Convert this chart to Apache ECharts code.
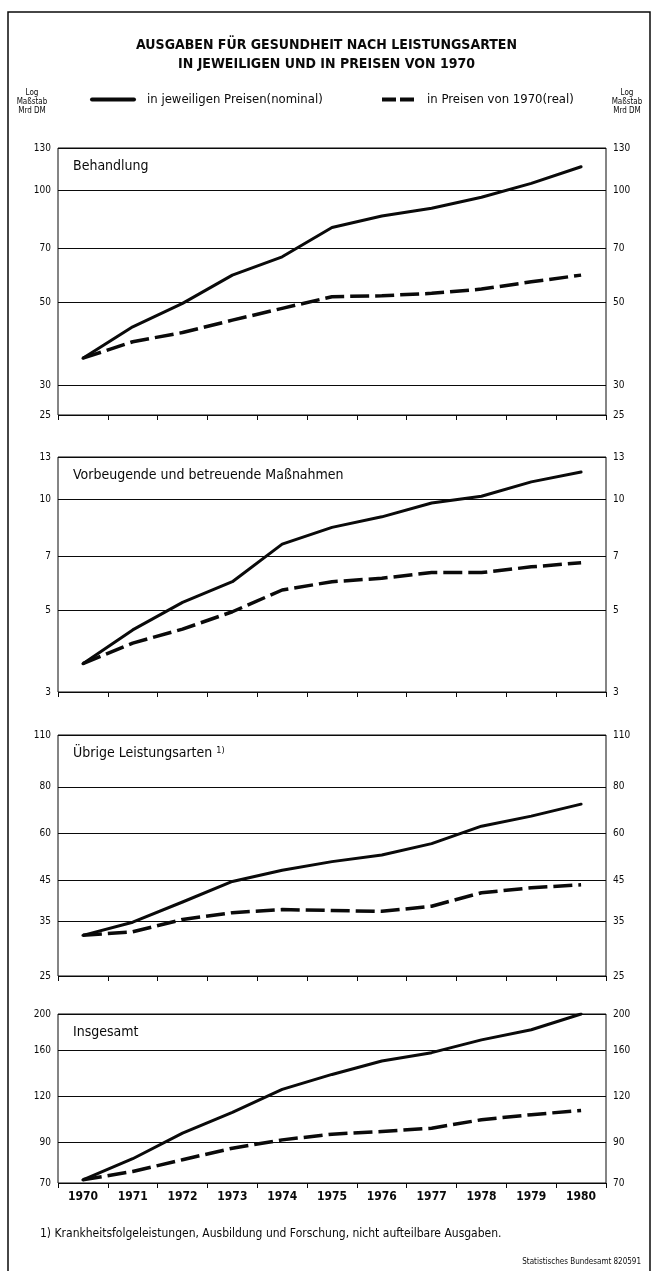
<!DOCTYPE html>
<html>
<head>
<meta charset="utf-8">
<script src="https://cdn.jsdelivr.net/npm/echarts@6/dist/echarts.min.js"></script>
<style>
  html, body { margin: 0; padding: 0; background: #fff; }
  #chart { width: 653px; height: 1271px; }
</style>
</head>
<body>
<div id="chart"></div>
<script>
// Jahre (Kategorien der x-Achse)
const years = ['1970', '1971', '1972', '1973', '1974', '1975', '1976', '1977', '1978', '1979', '1980'];

// Ausgaben in Mrd DM
const behandlungNominal = [35.5, 43.1, 49.8, 59.3, 66.4, 79.6, 85.4, 89.6, 95.9, 104.5, 115.8];
const behandlungReal    = [35.5, 39.3, 41.6, 44.9, 48.3, 51.9, 52.2, 53.0, 54.4, 56.9, 59.3];

const vorbeugendNominal = [3.58, 4.42, 5.25, 5.97, 7.55, 8.38, 8.95, 9.76, 10.18, 11.13, 11.84];
const vorbeugendReal    = [3.58, 4.07, 4.44, 4.95, 5.67, 5.97, 6.10, 6.32, 6.32, 6.55, 6.72];

const uebrigeNominal = [32.1, 34.8, 39.4, 44.7, 47.9, 50.5, 52.6, 56.4, 62.8, 66.8, 71.9];
const uebrigeReal    = [32.1, 32.8, 35.4, 36.9, 37.6, 37.4, 37.2, 38.4, 41.7, 43.0, 43.8];

const insgesamtNominal = [71.4, 81.4, 95.4, 108.6, 125.2, 137.4, 149.4, 157.3, 170.3, 181.4, 200];
const insgesamtReal    = [71.4, 75.2, 80.9, 86.9, 91.5, 94.8, 96.4, 98.4, 103.7, 107.0, 109.9];

// Skalenwerte (logarithmisch) je Teilbild
const behandlungTicks = [25, 30, 50, 70, 100, 130];
const vorbeugendTicks = [3, 5, 7, 10, 13];
const uebrigeTicks    = [25, 35, 45, 60, 80, 110];
const insgesamtTicks  = [70, 90, 120, 160, 200];

const panelTitles = ['Behandlung', 'Vorbeugende und betreuende Maßnahmen', 'Übrige Leistungsarten', 'Insgesamt'];

const NAME_NOMINAL = 'in jeweiligen Preisen(nominal)';
const NAME_REAL = 'in Preisen von 1970(real)';

const FONT = "'Liberation Sans Narrow', 'DejaVu Sans Condensed', 'Roboto', sans-serif";
const INK = '#0a0a0a';

// Teilbilder: Daten + Lage der Zeichenfläche
const panels = [
  { nominal: behandlungNominal, real: behandlungReal, ticks: behandlungTicks, top: 148, height: 267 },
  { nominal: vorbeugendNominal, real: vorbeugendReal, ticks: vorbeugendTicks, top: 457, height: 235 },
  { nominal: uebrigeNominal,    real: uebrigeReal,    ticks: uebrigeTicks,    top: 735, height: 241 },
  { nominal: insgesamtNominal,  real: insgesamtReal,  ticks: insgesamtTicks,  top: 1014, height: 169 }
];

const grids = [], xAxes = [], yAxes = [], series = [];

panels.forEach((p, i) => {
  const tMin = Math.min(...p.ticks), tMax = Math.max(...p.ticks);
  grids.push({
    left: 58, right: 47, top: p.top, height: p.height,
    show: true, borderColor: INK, borderWidth: 1, backgroundColor: 'transparent'
  });
  xAxes.push({
    type: 'category', gridIndex: i, data: years, boundaryGap: true,
    axisLine: { show: false },
    axisTick: { show: true, length: 5, lineStyle: { color: INK, width: 1 } },
    axisLabel: {
      show: i === panels.length - 1, margin: 8,
      color: INK, fontFamily: FONT, fontSize: 12, fontWeight: 'bold'
    },
    splitLine: { show: false }
  });
  yAxes.push({
    type: 'log', logBase: 10, gridIndex: i, min: tMin, max: tMax,
    axisLine: { show: false }, axisTick: { show: false },
    axisLabel: { show: false }, splitLine: { show: false }
  });

  // Gitterlinien mit Beschriftung links (an der Nominal-Reihe)
  const leftMarks = p.ticks.map(v => ({
    yAxis: v,
    label: { show: true, position: 'start', distance: 7, formatter: String(v) }
  }));
  // Beschriftung rechts (an der Real-Reihe, Linie unsichtbar)
  const rightMarks = p.ticks.map(v => ({
    yAxis: v,
    label: { show: true, position: 'end', distance: 7, formatter: String(v) }
  }));

  series.push({
    name: NAME_NOMINAL, type: 'line', xAxisIndex: i, yAxisIndex: i,
    data: p.nominal, showSymbol: false, symbol: 'none', z: 5,
    lineStyle: { color: INK, width: 3, type: 'solid', cap: 'round', join: 'round' },
    itemStyle: { color: INK },
    markLine: {
      silent: true, symbol: ['none', 'none'], animation: false,
      lineStyle: { color: INK, width: 1, type: 'solid' },
      label: { color: INK, fontFamily: FONT, fontSize: 10 },
      data: leftMarks
    }
  });
  series.push({
    name: NAME_REAL, type: 'line', xAxisIndex: i, yAxisIndex: i,
    data: p.real, showSymbol: false, symbol: 'none', z: 5,
    lineStyle: { color: INK, width: 3.5, type: [19, 6], cap: 'butt', join: 'round' },
    itemStyle: { color: INK },
    markLine: {
      silent: true, symbol: ['none', 'none'], animation: false,
      lineStyle: { color: 'rgba(0,0,0,0)', width: 1, type: 'solid' },
      label: { color: INK, fontFamily: FONT, fontSize: 10 },
      data: rightMarks
    }
  });
});

const titles = [
  {
    text: 'AUSGABEN FÜR GESUNDHEIT NACH LEISTUNGSARTEN\nIN JEWEILIGEN UND IN PREISEN VON 1970',
    left: 'center', top: 36, padding: 0,
    textStyle: { color: INK, fontFamily: FONT, fontSize: 14, fontWeight: 'bold', lineHeight: 19 }
  }
];
panels.forEach((p, i) => {
  titles.push({
    text: panelTitles[i] + (i === 2 ? ' {sup|1)}' : ''),
    left: 73, top: p.top + 11, padding: 0,
    textStyle: {
      color: INK, fontFamily: FONT, fontSize: 14, fontWeight: 'normal',
      rich: { sup: { fontFamily: FONT, fontSize: 9, verticalAlign: 'top', color: INK, padding: [0, 0, 6, 0] } }
    }
  });
});

const scaleNote = 'Log\nMaßstab\nMrd DM';

// Legendensymbol: nur die Linie, ohne Punkt
const legendBase = {
  top: 93, padding: 0, itemHeight: 14, selectedMode: false,
  itemStyle: { color: 'rgba(0,0,0,0)', borderWidth: 0, opacity: 0 },
  textStyle: { color: INK, fontFamily: FONT, fontSize: 13, padding: [0, 0, 0, 8] }
};

const option = {
  animation: false,
  backgroundColor: '#fff',
  textStyle: { fontFamily: FONT, color: INK },
  title: titles,
  legend: [
    Object.assign({}, legendBase, {
      data: [NAME_NOMINAL], left: 90, itemWidth: 42,
      lineStyle: { width: 4, color: INK }
    }),
    Object.assign({}, legendBase, {
      data: [NAME_REAL], left: 380, itemWidth: 32,
      lineStyle: { width: 4, color: INK, type: [14, 4] }
    })
  ],
  grid: grids,
  xAxis: xAxes,
  yAxis: yAxes,
  series: series,
  graphic: [
    {
      type: 'polyline', silent: true,
      shape: { points: [[8, 1290], [8, 12], [650, 12], [650, 1290]] },
      style: { stroke: INK, lineWidth: 1.5, fill: null }
    },
    {
      type: 'text', x: 32, y: 88, silent: true,
      style: { text: scaleNote, fill: INK, font: '8px ' + FONT, lineHeight: 9, align: 'center', verticalAlign: 'top' }
    },
    {
      type: 'text', x: 627, y: 88, silent: true,
      style: { text: scaleNote, fill: INK, font: '8px ' + FONT, lineHeight: 9, align: 'center', verticalAlign: 'top' }
    },
    {
      type: 'text', left: 40, top: 1228, silent: true,
      style: { text: '1) Krankheitsfolgeleistungen, Ausbildung und Forschung, nicht aufteilbare Ausgaben.', fill: INK, font: '12px ' + FONT }
    },
    {
      type: 'text', right: 12, top: 1258, silent: true,
      style: { text: 'Statistisches Bundesamt 820591', fill: INK, font: '8px ' + FONT }
    }
  ]
};

const chart = echarts.init(document.getElementById('chart'), null, { renderer: 'canvas' });
chart.setOption(option);
</script>
</body>
</html>
